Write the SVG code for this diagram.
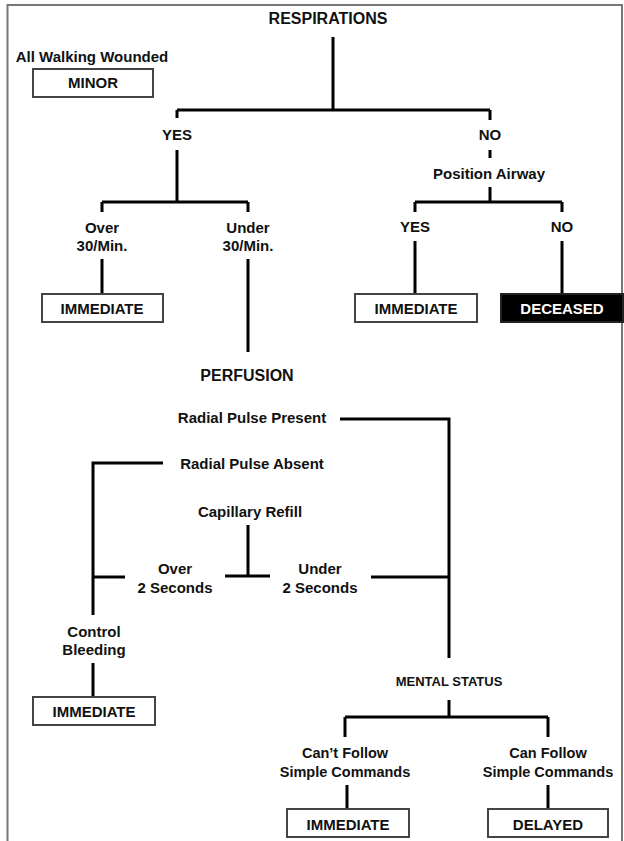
<svg xmlns="http://www.w3.org/2000/svg" width="624" height="841" viewBox="0 0 624 841">
<style>
text{font-family:"Liberation Sans",Arial,sans-serif;font-weight:bold;fill:#111;text-anchor:middle}
.h{font-size:16px}
.l{font-size:15px}
.s{font-size:13px}
.c{font-size:14.5px}
.box{fill:#fff;stroke:#444;stroke-width:2}
.dead{fill:#000;stroke:#222;stroke-width:2}
.w{fill:#fff}
#connectors path{fill:none;stroke:#000;stroke-width:3}
</style>
<rect x="0" y="0" width="624" height="841" fill="#fff"/>
<rect x="7.5" y="5" width="614.5" height="845" fill="none" stroke="#777" stroke-width="2"/>
<g id="connectors">
<path d="M333 37V110M177 110H490M177 110V118M177 150V202M490 110V120M490 187V202"/>
<path d="M490 150V158"/>
<path d="M102 202H248M102 202V212M248 202V212M102 259V294M248 259V352"/>
<path d="M415 202H562M415 202V212M562 202V212M415 241V294M562 241V294"/>
<path d="M340 419H449V658"/>
<path d="M163 463H93V615"/>
<path d="M248 525V576M225 576H270"/>
<path d="M93 577H125"/>
<path d="M371 577H449"/>
<path d="M93 663V697"/>
<path d="M449 700V717M345 717H548M345 717V737M548 717V737M347 785V809M548 785V809"/>
</g>
<g id="respirations"><text class="h" x="328" y="24">RESPIRATIONS</text></g>
<g id="walking"><text class="l" x="92" y="62">All Walking Wounded</text></g>
<g id="minor"><rect class="box" x="33" y="69" width="120" height="28"/><text class="l" x="93" y="88">MINOR</text></g>
<g id="yes1"><text class="l" x="177" y="140">YES</text></g>
<g id="no1"><text class="l" x="490" y="140">NO</text></g>
<g id="position-airway"><text class="l" x="489" y="179">Position Airway</text></g>
<g id="over30"><text class="l" x="102" y="233">Over</text><text class="l" x="102" y="251">30/Min.</text></g>
<g id="under30"><text class="l" x="248" y="233">Under</text><text class="l" x="248" y="251">30/Min.</text></g>
<g id="yes2"><text class="l" x="415" y="232">YES</text></g>
<g id="no2"><text class="l" x="562" y="232">NO</text></g>
<g id="immediate1"><rect class="box" x="42" y="294" width="121" height="28"/><text class="l" x="102" y="314">IMMEDIATE</text></g>
<g id="immediate2"><rect class="box" x="355" y="294" width="122" height="28"/><text class="l" x="416" y="314">IMMEDIATE</text></g>
<g id="deceased"><rect class="dead" x="501" y="294" width="122" height="28"/><text class="l w" x="562" y="314">DECEASED</text></g>
<g id="perfusion"><text class="h" x="247" y="381">PERFUSION</text></g>
<g id="radial-present"><text class="l" x="252" y="423">Radial Pulse Present</text></g>
<g id="radial-absent"><text class="l" x="252" y="469">Radial Pulse Absent</text></g>
<g id="capillary"><text class="l" x="250" y="517">Capillary Refill</text></g>
<g id="over2"><text class="l" x="175" y="574">Over</text><text class="l" x="175" y="593">2 Seconds</text></g>
<g id="under2"><text class="l" x="320" y="574">Under</text><text class="l" x="320" y="593">2 Seconds</text></g>
<g id="control"><text class="l" x="94" y="637">Control</text><text class="l" x="94" y="655">Bleeding</text></g>
<g id="immediate3"><rect class="box" x="33" y="697" width="122" height="28"/><text class="l" x="94" y="717">IMMEDIATE</text></g>
<g id="mental"><text class="s" x="449" y="686">MENTAL STATUS</text></g>
<g id="cant-follow"><text class="c" x="345" y="758">Can’t Follow</text><text class="c" x="345" y="777">Simple Commands</text></g>
<g id="can-follow"><text class="c" x="548" y="758">Can Follow</text><text class="c" x="548" y="777">Simple Commands</text></g>
<g id="immediate4"><rect class="box" x="287" y="809" width="122" height="28"/><text class="l" x="348" y="830">IMMEDIATE</text></g>
<g id="delayed"><rect class="box" x="488" y="809" width="120" height="28"/><text class="l" x="548" y="830">DELAYED</text></g>
</svg>
